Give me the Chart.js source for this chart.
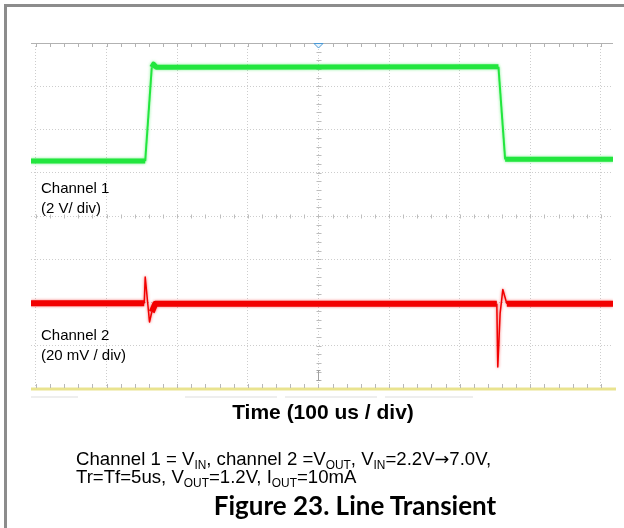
<!DOCTYPE html>
<html>
<head>
<meta charset="utf-8">
<script src="https://cdn.jsdelivr.net/npm/chart.js@4/dist/chart.umd.min.js"></script>
<style>
  html, body { margin: 0; padding: 0; background: #fff; }
  #wrap { position: relative; width: 624px; height: 528px; overflow: hidden; background: #fff; }
  #scope { position: absolute; left: 0; top: 0; }
  .t { position: absolute; white-space: nowrap; font-family: "Liberation Sans", Arial, sans-serif; color: #000; line-height: 1; }
  .t sub { font-size: 0.64em; vertical-align: baseline; position: relative; top: 0.3em; }
  .arrow { font-family: "DejaVu Sans", sans-serif; font-size: 0.95em; }
  .lbl { font-size: 15px; left: 41px; }
  .cap { font-size: 18.6px; left: 76px; }
  .axis { font-size: 21px; font-weight: bold; left: 323px; transform: translateX(-50%); }
  .fig { font-family: Lato, "Open Sans", sans-serif; font-weight: bold; font-size: 26px; left: 355px; transform: translateX(-50%); }
</style>
</head>
<body>
<div id="wrap">
  <canvas id="scope" width="624" height="528"></canvas>
  <div class="t lbl" style="top:180px">Channel 1</div>
  <div class="t lbl" style="top:200px">(2 V/ div)</div>
  <div class="t lbl" style="top:327px">Channel 2</div>
  <div class="t lbl" style="top:347px">(20 mV / div)</div>
  <div class="t axis" style="top:401px">Time (100 us / div)</div>
  <div class="t cap" style="top:450px">Channel 1 = V<sub>IN</sub>, channel 2 =V<sub>OUT</sub>, V<sub>IN</sub>=2.2V<span class="arrow">→</span>7.0V,</div>
  <div class="t cap" style="top:468px">Tr=Tf=5us, V<sub>OUT</sub>=1.2V, I<sub>OUT</sub>=10mA</div>
  <div class="t fig" style="top:492px">Figure 23. Line Transient</div>
</div>
<script>
// Horizontal window in microseconds (100 us per division, trigger at 0)
const timeMin = -407;
const timeMax = 417;
const timeDivUs = 100;
const minorPerDiv = 5;

// Vertical graticule in divisions
const divMin = -4;
const divMax = 4;

// Channel 1 (V_IN, 2 V/div): readings in graticule divisions
const ch1Time = [-407, -245.3, -236.0, -233.5, -229.5, 254.8, 264.3, 417];
const ch1Div  = [1.27, 1.27, 3.44, 3.51, 3.44, 3.45, 1.31, 1.31];

// Channel 2 (V_OUT, 20 mV/div): readings in graticule divisions
const ch2Time = [-407, -246.7, -245.3, -239.2, -236.0, -231.0, 252.5, 253.9, 257.2, 261.0, 266.7, 417];
const ch2Div  = [-2.02, -2.02, -1.41, -2.45, -2.22, -2.03, -2.03, -3.49, -2.25, -1.70, -2.03, -2.03];

const GREEN = '#22e63e';
const RED = '#f20000';

function toPoints(xs, ys) {
  return xs.map((t, i) => ({ x: t, y: ys[i] }));
}

// thin stroke on steep edges, thick noisy band elsewhere
function edgeWidth(band, edge) {
  return c => {
    const dx = Math.abs(c.p1.x - c.p0.x);
    const dy = Math.abs(c.p1.y - c.p0.y);
    return dy > 2.5 * dx ? edge : band;
  };
}

const graticule = {
  id: 'graticule',
  beforeDatasetsDraw(chart) {
    const { ctx, chartArea: a, scales: { x, y } } = chart;
    const cx = Math.round(x.getPixelForValue(0)) + 0.5;
    const cy = Math.round(y.getPixelForValue(0)) + 0.5;
    const step = timeDivUs / minorPerDiv;
    ctx.save();
    ctx.lineWidth = 1;

    // top edge with minor ticks
    ctx.strokeStyle = '#b2b2b2';
    ctx.beginPath();
    ctx.moveTo(a.left, a.top + 0.5); ctx.lineTo(a.right, a.top + 0.5);
    for (let t = -400; t <= 400; t += step) {
      const px = Math.round(x.getPixelForValue(t)) + 0.5;
      ctx.moveTo(px, a.top); ctx.lineTo(px, a.top + 4);
    }
    ctx.stroke();

    // centre crosshair ticks
    ctx.strokeStyle = '#bdbdbd';
    ctx.beginPath();
    for (let t = -400; t <= 400; t += step) {
      const px = Math.round(x.getPixelForValue(t)) + 0.5;
      ctx.moveTo(px, cy - 2); ctx.lineTo(px, cy + 2);
    }
    for (let d = divMin; d <= divMax + 1e-9; d += 1 / minorPerDiv) {
      const py = Math.round(y.getPixelForValue(d)) + 0.5;
      ctx.moveTo(cx - 2, py); ctx.lineTo(cx + 3, py);
    }
    ctx.stroke();

    // bottom edge (yellow) with minor ticks
    ctx.strokeStyle = '#e9e38f';
    ctx.lineWidth = 3;
    ctx.beginPath();
    ctx.moveTo(a.left, a.bottom); ctx.lineTo(a.right + 3, a.bottom);
    ctx.stroke();
    ctx.lineWidth = 1;
    ctx.strokeStyle = '#b8b8b8';
    ctx.beginPath();
    for (let t = -400; t <= 400; t += step) {
      const px = Math.round(x.getPixelForValue(t)) + 0.5;
      ctx.moveTo(px, a.bottom - 5); ctx.lineTo(px, a.bottom - 1);
    }
    ctx.stroke();

    // trigger position marker
    ctx.beginPath();
    ctx.moveTo(cx - 4.5, a.top + 0.5);
    ctx.lineTo(cx + 4.5, a.top + 0.5);
    ctx.lineTo(cx, a.top + 5);
    ctx.closePath();
    ctx.fillStyle = '#eaf4fb';
    ctx.fill();
    ctx.strokeStyle = '#4a98d4';
    ctx.stroke();

    // small level marker near the bottom
    ctx.strokeStyle = '#a0a0a0';
    ctx.beginPath();
    ctx.moveTo(cx, a.bottom - 18); ctx.lineTo(cx, a.bottom - 9);
    ctx.moveTo(cx - 2, a.bottom - 18.5); ctx.lineTo(cx + 2, a.bottom - 18.5);
    ctx.moveTo(cx - 2, a.bottom - 8.5); ctx.lineTo(cx + 2, a.bottom - 8.5);
    ctx.stroke();

    // faint readout strips under the screen
    ctx.fillStyle = '#eeeeee';
    [[31, 78], [185, 277], [285, 377], [385, 473]].forEach(([l, r]) => ctx.fillRect(l, a.bottom + 7, r - l, 2));
    ctx.restore();
  },
  // soft edge on the noisy traces
  beforeDatasetDraw(chart, args) {
    const ds = chart.data.datasets[args.index];
    chart.ctx.save();
    chart.ctx.shadowColor = ds.borderColor + '99';
    chart.ctx.shadowBlur = 3;
  },
  afterDatasetDraw(chart) {
    chart.ctx.restore();
  },
  afterDraw(chart) {
    const { ctx } = chart;
    ctx.save();
    ctx.fillStyle = '#8c8c8c';
    ctx.fillRect(4, 4, 620, 3);
    ctx.fillRect(4, 4, 3, 524);
    ctx.restore();
  }
};

new Chart(document.getElementById('scope'), {
  type: 'line',
  data: {
    datasets: [
      {
        label: 'Channel 1',
        data: toPoints(ch1Time, ch1Div),
        borderColor: GREEN,
        borderWidth: 5,
        pointRadius: 0,
        tension: 0,
        borderJoinStyle: 'round',
        segment: { borderWidth: edgeWidth(5, 2) }
      },
      {
        label: 'Channel 2',
        data: toPoints(ch2Time, ch2Div),
        borderColor: RED,
        borderWidth: 6,
        pointRadius: 0,
        tension: 0,
        borderJoinStyle: 'round',
        segment: { borderWidth: edgeWidth(6, 1.5) }
      }
    ]
  },
  options: {
    responsive: false,
    animation: false,
    devicePixelRatio: 1,
    layout: { padding: { left: 31, right: 11, top: 43, bottom: 139 } },
    plugins: { legend: { display: false }, tooltip: { enabled: false } },
    scales: {
      x: {
        type: 'linear',
        min: timeMin,
        max: timeMax,
        ticks: { display: false, stepSize: timeDivUs, includeBounds: false },
        grid: { color: '#cdcdcd', drawTicks: false, lineWidth: 1 },
        border: { display: false, dash: [1, 2] },
        afterFit(s) { s.height = 0; }
      },
      y: {
        type: 'linear',
        min: divMin,
        max: divMax,
        ticks: { display: false, stepSize: 1, includeBounds: false },
        grid: {
          color: c => (Math.abs(c.tick.value) >= divMax ? 'rgba(0,0,0,0)' : '#cdcdcd'),
          drawTicks: false,
          lineWidth: 1
        },
        border: { display: false, dash: [1, 2] },
        afterFit(s) { s.width = 0; }
      }
    }
  },
  plugins: [graticule]
});
</script>
</body>
</html>
